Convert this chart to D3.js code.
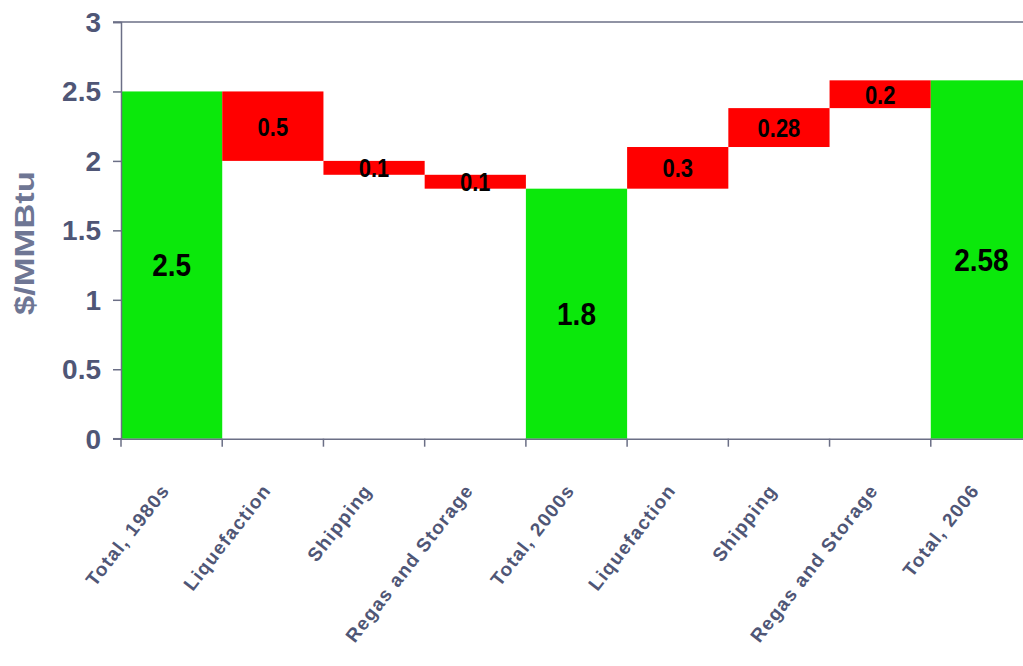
<!DOCTYPE html>
<html>
<head>
<meta charset="utf-8">
<script src="https://cdn.jsdelivr.net/npm/d3@7"></script>
<style>
  html, body { margin: 0; padding: 0; background: #ffffff; }
  svg { display: block; }
  text { font-family: "Liberation Sans", Arial, sans-serif; font-weight: bold; }
</style>
</head>
<body>
<svg id="chart" width="1023" height="666"></svg>
<script>
// ---- data ----
const categories = ["Total, 1980s", "Liquefaction", "Shipping", "Regas and Storage",
                    "Total, 2000s", "Liquefaction ", "Shipping ", "Regas and Storage ", "Total, 2006"];
const labels = ["Total, 1980s", "Liquefaction", "Shipping", "Regas and Storage",
                "Total, 2000s", "Liquefaction", "Shipping", "Regas and Storage", "Total, 2006"];
const values = [2.5, -0.5, -0.1, -0.1, 1.8, 0.3, 0.28, 0.2, 2.58];
const isTotal = [true, false, false, false, true, false, false, false, true];
const valueText = ["2.5", "0.5", "0.1", "0.1", "1.8", "0.3", "0.28", "0.2", "2.58"];
const yTicks = [0, 0.5, 1, 1.5, 2, 2.5, 3];
const yTickText = ["0", "0.5", "1", "1.5", "2", "2.5", "3"];
const yTitle = "$/MMBtu";

// ---- build waterfall segments ----
let running = 0;
const segs = values.map((v, i) => {
  let lo, hi;
  if (isTotal[i]) { lo = 0; hi = v; running = v; }
  else { const a = running, b = running + v; lo = Math.min(a, b); hi = Math.max(a, b); running = b; }
  return { cat: categories[i], lo, hi, total: isTotal[i], txt: valueText[i] };
});

const svg = d3.select("#chart");
const x = d3.scaleBand().domain(categories).range([121, 1032]).padding(0);
const y = d3.scaleLinear().domain([0, 3]).range([438.7, 22]);

const axisColor = "#6b6f86";
const labelColor = "#4f5676";

// bars
svg.append("g").selectAll("rect").data(segs).join("rect")
  .attr("x", d => x(d.cat))
  .attr("width", x.bandwidth())
  .attr("y", d => y(d.hi))
  .attr("height", d => y(d.lo) - y(d.hi))
  .attr("fill", d => d.total ? "#0be80b" : "#ff0000");

// top border line
svg.append("line")
  .attr("x1", 113).attr("x2", 1023)
  .attr("y1", y(3)).attr("y2", y(3))
  .attr("stroke", axisColor).attr("stroke-width", 1.5);

// y axis
const yAxis = svg.append("g").attr("transform", "translate(121,0)")
  .call(d3.axisLeft(y).tickValues(yTicks).tickSize(8).tickFormat((d, i) => yTickText[i]));
yAxis.select(".domain").attr("stroke", axisColor).attr("stroke-width", 1.5);
yAxis.selectAll(".tick line").attr("stroke", axisColor).attr("stroke-width", 1.5);
yAxis.selectAll(".tick text")
  .attr("x", -20)
  .attr("dy", "0.34em")
  .attr("fill", labelColor)
  .style("font-size", "28px")
  .style("font-family", "'Liberation Sans', Arial, sans-serif")
  .style("font-weight", "bold");

// x axis
const xAxis = svg.append("g").attr("transform", `translate(0,${y(0)})`)
  .call(d3.axisBottom(x).tickSize(0).tickFormat(""));
xAxis.select(".domain").attr("stroke", axisColor).attr("stroke-width", 1.5);
xAxis.append("line").attr("x1", 113).attr("x2", 121).attr("y1", 0).attr("y2", 0)
  .attr("stroke", axisColor).attr("stroke-width", 1.5);
// boundary ticks
const bounds = categories.map(c => x(c)).concat([x(categories[categories.length - 1]) + x.bandwidth()]);
xAxis.selectAll("line.bt").data(bounds).join("line").attr("class", "bt")
  .attr("x1", d => d).attr("x2", d => d).attr("y1", 0).attr("y2", 8)
  .attr("stroke", axisColor).attr("stroke-width", 1.5);

// x labels
svg.append("g").selectAll("text").data(categories).join("text")
  .attr("transform", (d) => `translate(${x(d) + x.bandwidth() / 2 - 1},${y(0) + 52}) rotate(-52)`)
  .attr("text-anchor", "end")
  .attr("fill", labelColor)
  .style("font-size", "19px")
  .style("letter-spacing", "1.3px")
  .text((d, i) => labels[i]);

// y title
svg.append("text")
  .attr("transform", `translate(34,243) scale(1,1.28) rotate(-90)`)
  .attr("text-anchor", "middle")
  .attr("fill", "#6e7694")
  .style("font-size", "27px")
  .text(yTitle);

// value labels
svg.append("g").selectAll("text").data(segs).join("text")
  .attr("transform", d => `translate(${x(d.cat) + x.bandwidth() / 2},${y((d.lo + d.hi) / 2)}) scale(1,${d.total ? 1.1 : 1.2})`)
  .attr("text-anchor", "middle")
  .attr("dy", "0.36em")
  .attr("fill", "#000")
  .style("font-size", d => d.total ? "28px" : "22px")
  .text(d => d.txt);
</script>
</body>
</html>
